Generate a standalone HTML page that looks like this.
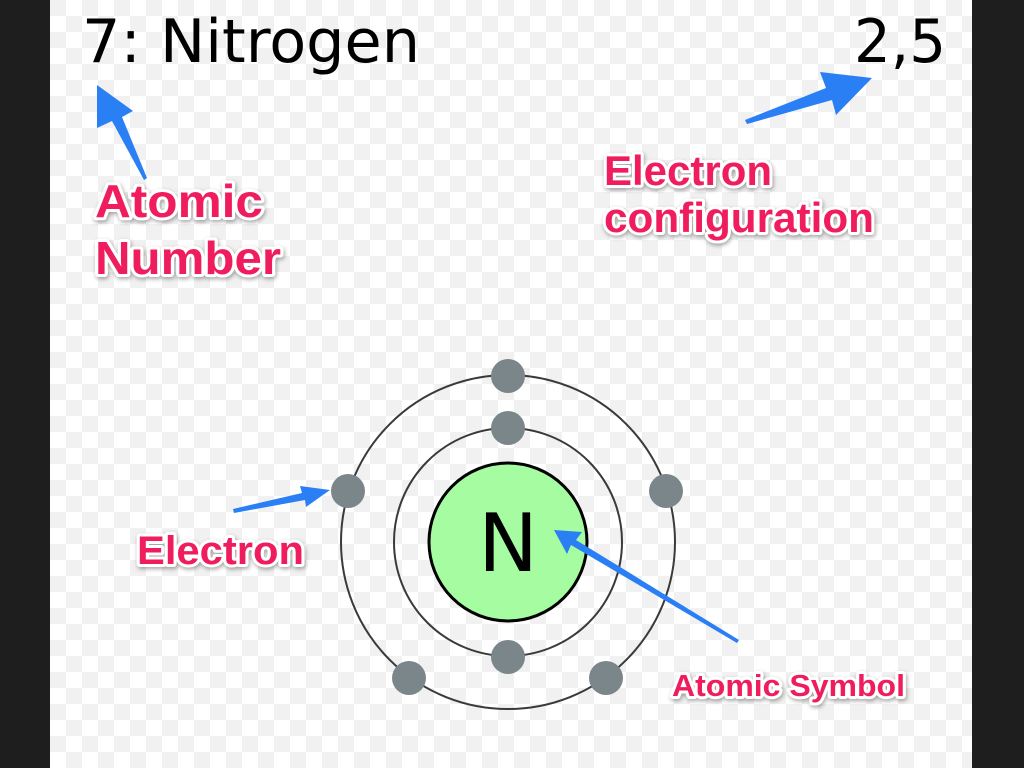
<!DOCTYPE html>
<html><head><meta charset="utf-8"><style>
html,body{margin:0;padding:0;width:1024px;height:768px;overflow:hidden;background:#1e1e1e}
svg{display:block}
.lbl{font-family:"Liberation Sans",Arial,sans-serif;font-weight:bold;fill:#ef1d5d;stroke:#fff;stroke-width:6px;paint-order:stroke;stroke-linejoin:round;filter:drop-shadow(1px 2px 2px rgba(0,0,0,0.35))}
.big{font-family:"DejaVu Sans","Liberation Sans",sans-serif;fill:#000}
</style></head><body>
<svg width="1024" height="768" viewBox="0 0 1024 768" xmlns="http://www.w3.org/2000/svg">
<defs>
<pattern id="ck" x="50" y="0" width="32" height="32" patternUnits="userSpaceOnUse">
<rect width="32" height="32" fill="#fff"/>
<rect width="16" height="16" fill="#f1f1f1"/>
<rect x="16" y="16" width="16" height="16" fill="#f1f1f1"/>
</pattern>
</defs>
<rect x="0" y="0" width="1024" height="768" fill="#1e1e1e"/>
<rect x="50" y="0" width="922" height="768" fill="url(#ck)"/>

<text x="82" y="62" class="big" font-size="60" textLength="338" lengthAdjust="spacingAndGlyphs">7: Nitrogen</text>
<text x="854" y="62" class="big" font-size="60" textLength="92" lengthAdjust="spacingAndGlyphs">2,5</text>

<g fill="none" stroke="#3a3a3a" stroke-width="2">
<circle cx="508" cy="542" r="167"/>
<circle cx="508" cy="542" r="114"/>
</g>
<circle cx="508" cy="542" r="79" fill="#a6fca0" stroke="#000" stroke-width="3"/>
<text x="508" y="571" font-family="DejaVu Sans,Liberation Sans,sans-serif" font-size="80" text-anchor="middle" fill="#000">N</text>
<g fill="#7a868a">
<circle cx="508" cy="376" r="17"/>
<circle cx="508" cy="428" r="17"/>
<circle cx="348" cy="491" r="17"/>
<circle cx="666" cy="491" r="17"/>
<circle cx="508" cy="657" r="17"/>
<circle cx="409" cy="678" r="17"/>
<circle cx="606" cy="678" r="17"/>
</g>

<g fill="#2a7ff5">
<polygon points="97,85 133,111 122,117 147,178 144,180 112,121 97,128"/>
<polygon points="872,78 836,115 832,100 747,124 745,120 826,88 820,72"/>
<polygon points="330,490 306,507 305,500 234,513 233,509 302,493 300,486"/>
<polygon points="554,530 582,532 576,540 739,640 737,643 571,545 567,554"/>
</g>

<text class="lbl" font-size="46" x="95" y="217" textLength="168" lengthAdjust="spacingAndGlyphs">Atomic</text>
<text class="lbl" font-size="46" x="95" y="274" textLength="186" lengthAdjust="spacingAndGlyphs">Number</text>
<text class="lbl" font-size="42" x="604" y="185" textLength="168" lengthAdjust="spacingAndGlyphs">Electron</text>
<text class="lbl" font-size="42" x="604" y="232" textLength="270" lengthAdjust="spacingAndGlyphs">configuration</text>
<text class="lbl" font-size="40" x="137" y="564" textLength="167" lengthAdjust="spacingAndGlyphs">Electron</text>
<text class="lbl" font-size="31" x="672" y="696" textLength="233" lengthAdjust="spacingAndGlyphs">Atomic Symbol</text>
</svg>
</body></html>
